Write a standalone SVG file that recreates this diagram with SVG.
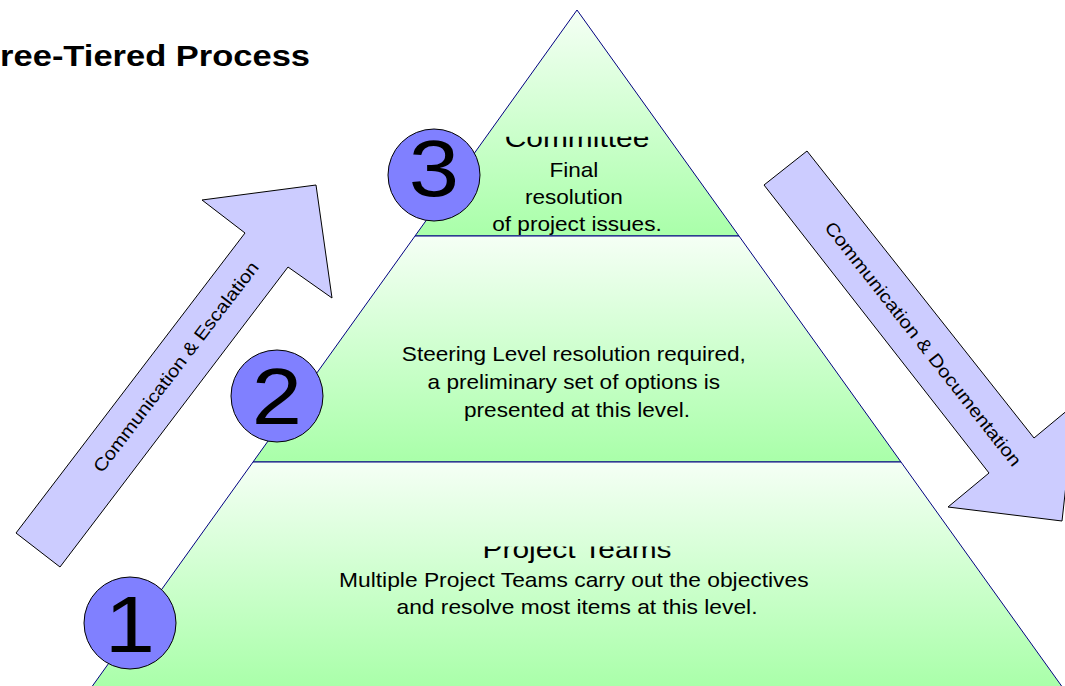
<svg xmlns="http://www.w3.org/2000/svg" width="1065" height="686" viewBox="0 0 1065 686">
  <style>
    .txt { font-family: "Liberation Sans", Arial, sans-serif; fill: #000; }
    .title { font-size: 30px; font-weight: bold; }
    .body { font-size: 20px; text-anchor: middle; }
    .head { font-size: 26.5px; text-anchor: middle; }
    .digit { font-size: 80px; text-anchor: middle; }
    .lbl { font-size: 18px; text-anchor: middle; }
    .tier { fill: url(#tierFill); stroke: #000080; stroke-width: 1; }
    .badge { fill: #8080ff; stroke: #000; stroke-width: 1; }
    .arrow { fill: #ccccff; stroke: #000; stroke-width: 1; }
  </style>
  <defs>
    <linearGradient id="tierFill" x1="0" y1="0" x2="0" y2="1">
      <stop offset="0" stop-color="#f5fff5"/>
      <stop offset="1" stop-color="#a9ffa9"/>
    </linearGradient>
    <clipPath id="clipTop"><rect x="380" y="136.7" width="400" height="110"/></clipPath>
    <clipPath id="clipBottom"><rect x="200" y="546.5" width="760" height="140"/></clipPath>
  </defs>

  <rect width="1065" height="686" fill="#fff"/>

  <!-- heading, partly off the left edge -->
  <g id="title">
    <text class="txt title" transform="translate(310,65.5) scale(1.15,1)" text-anchor="end">ree-Tiered Process</text>
  </g>

  <!-- pyramid tiers -->
  <g id="tier-top">
    <polygon class="tier" points="577,10 739,236 415,236"/>
    <g clip-path="url(#clipTop)">
      <text class="txt head" transform="translate(577,146.7) scale(1.13,1)">Committee</text>
    </g>
    <text class="txt body" transform="translate(577,177) scale(1.13,1)">
      <tspan x="0" y="0">Final</tspan>
      <tspan x="0" y="27">resolution</tspan>
      <tspan x="0" y="54">of project issues.</tspan>
    </text>
  </g>

  <g id="tier-middle">
    <polygon class="tier" points="415,236 739,236 901,462 253,462"/>
    <text class="txt body" transform="translate(577,361) scale(1.13,1)">
      <tspan x="0" y="0">Steering Level resolution required,</tspan>
      <tspan x="0" y="28">a preliminary set of options is</tspan>
      <tspan x="0" y="56">presented at this level.</tspan>
    </text>
  </g>

  <g id="tier-bottom">
    <polygon class="tier" points="253,462 901,462 1063,688 91,688"/>
    <g clip-path="url(#clipBottom)">
      <text class="txt head" transform="translate(577,558) scale(1.13,1)">Project Teams</text>
    </g>
    <text class="txt body" transform="translate(577,587) scale(1.14,1)">
      <tspan x="0" y="0">Multiple Project Teams carry out the objectives</tspan>
      <tspan x="0" y="27">and resolve most items at this level.</tspan>
    </text>
  </g>

  <!-- numbered badges -->
  <g id="badge-3">
    <circle class="badge" cx="434" cy="175" r="46"/>
    <text class="txt digit" transform="translate(434,196) scale(1.13,1)">3</text>
  </g>
  <g id="badge-2">
    <circle class="badge" cx="277" cy="396" r="46"/>
    <text class="txt digit" transform="translate(277,424) scale(1.13,1)">2</text>
  </g>
  <g id="badge-1">
    <circle class="badge" cx="130" cy="623" r="46"/>
    <text class="txt digit" transform="translate(130,652) scale(1.13,1)">1</text>
  </g>

  <!-- block arrows -->
  <g id="connectors">
    <g id="arrow-escalation">
      <polygon class="arrow" points="16,533 245,233 202,200 316,185 332,298 288,267 60,567"/>
      <text class="txt lbl" transform="translate(176,367) rotate(-52.6) scale(1.13,1)" y="6">Communication &amp; Escalation</text>
    </g>
    <g id="arrow-documentation">
      <polygon class="arrow" points="807,151 1034,438 1075,404 1062,521 948,507 989,473 764,185"/>
      <text class="txt lbl" transform="translate(923,344) rotate(51.8) scale(1.14,1)" y="6">Communication &amp; Documentation</text>
    </g>
  </g>
</svg>
